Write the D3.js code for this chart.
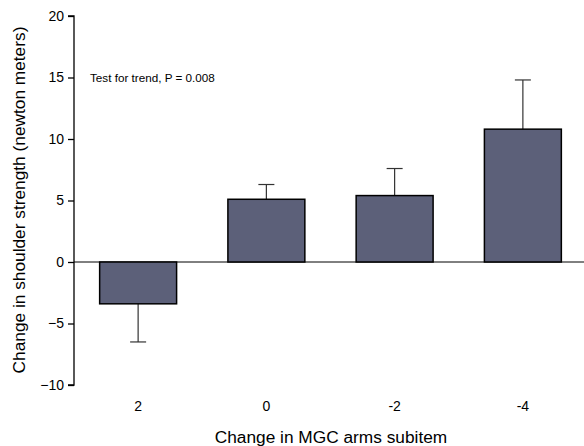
<!DOCTYPE html>
<html><head><meta charset="utf-8">
<script src="https://cdn.jsdelivr.net/npm/d3@7"></script>
<style>body{margin:0;background:#fff}svg{display:block}text{font-family:"Liberation Sans",Arial,sans-serif}</style>
</head><body><svg id="c" width="584" height="446"></svg>
<script>
const categories = ["2", "0", "-2", "-4"];
const values = [-3.4, 5.1, 5.4, 10.8];
const errors = [3.1, 1.2, 2.2, 4.0];
const yTicks = [-10, -5, 0, 5, 10, 15, 20];

const svg = d3.select("#c");
const y = d3.scaleLinear().domain([-10, 20]).range([385, 16]);
const x = d3.scaleBand().domain(categories).range([74, 587]).paddingInner(0.4).paddingOuter(0.2);

// zero line
svg.append("line").attr("x1", 74).attr("x2", 584).attr("y1", y(0)).attr("y2", y(0))
  .attr("stroke", "#000").attr("stroke-width", 1);

// error bars
const eb = svg.append("g");
categories.forEach((c, i) => {
  const cx = x(c) + x.bandwidth() / 2;
  const v = values[i], e = errors[i];
  const end = v >= 0 ? v + e : v - e;
  eb.append("line").attr("x1", cx).attr("x2", cx).attr("y1", y(v)).attr("y2", y(end)).attr("stroke", "#333").attr("stroke-width", 1.2);
  eb.append("line").attr("x1", cx - 8).attr("x2", cx + 8).attr("y1", y(end)).attr("y2", y(end)).attr("stroke", "#333").attr("stroke-width", 1.2);
});

// bars
svg.append("g").selectAll("rect").data(values).join("rect")
  .attr("x", (d, i) => x(categories[i]))
  .attr("width", x.bandwidth())
  .attr("y", d => y(Math.max(0, d)))
  .attr("height", d => Math.abs(y(d) - y(0)))
  .attr("fill", "#5c6079").attr("stroke", "#000").attr("stroke-width", 1.5);

// y axis
const ya = svg.append("g").attr("transform", "translate(74,0)")
  .call(d3.axisLeft(y).tickValues(yTicks).tickSize(6).tickPadding(4).tickFormat(d3.format("d")));
ya.select(".domain").attr("d", `M-6,${y(20)}H0V${y(-10)}H-6`).attr("stroke-width", 1.3);
ya.selectAll("line").attr("stroke-width", 1.3);
ya.selectAll("text").attr("font-size", 14).attr("fill", "#000").attr("font-family", "Liberation Sans, Arial, sans-serif");

// x labels
svg.append("g").selectAll("text").data(categories).join("text")
  .attr("x", d => x(d) + x.bandwidth() / 2).attr("y", 411)
  .attr("text-anchor", "middle").attr("font-size", 14).text(d => d);

// titles
svg.append("text").attr("x", 331).attr("y", 443).attr("text-anchor", "middle").attr("font-size", 17.3)
  .text("Change in MGC arms subitem");
svg.append("text").attr("transform", "translate(25,200) rotate(-90)").attr("text-anchor", "middle").attr("font-size", 17.3)
  .text("Change in shoulder strength (newton meters)");
svg.append("text").attr("x", 90).attr("y", 82).attr("font-size", 11.7)
  .text("Test for trend, P = 0.008");
</script></body></html>
